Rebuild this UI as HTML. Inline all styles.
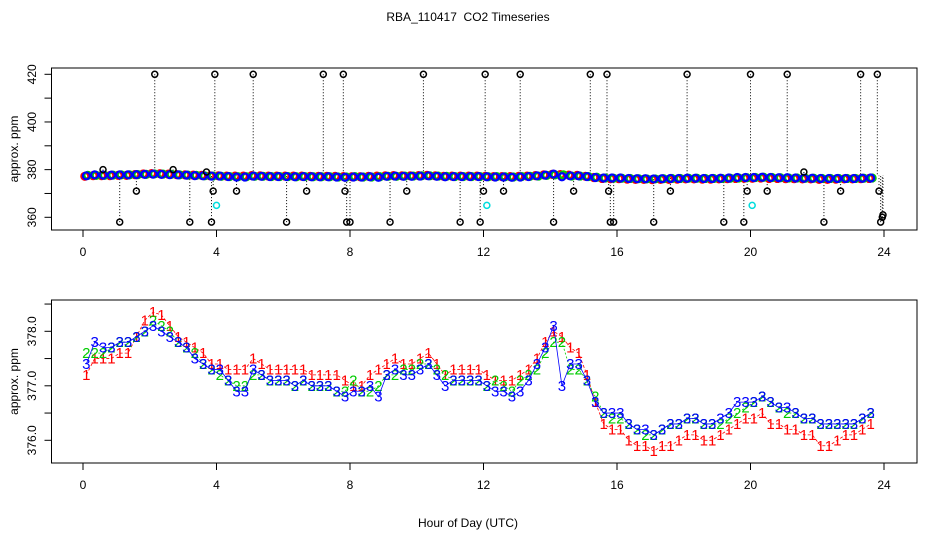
<!DOCTYPE html>
<html><head><meta charset="utf-8"><style>
body{margin:0;background:#fff}
svg{font-family:"Liberation Sans",sans-serif}
</style></head><body>
<svg id="c" width="936" height="540" xmlns="http://www.w3.org/2000/svg">
<text x="468" y="21" text-anchor="middle" font-size="12" xml:space="preserve" style="white-space:pre">RBA_110417  CO2 Timeseries</text>
<text x="468" y="527" text-anchor="middle" font-size="12">Hour of Day (UTC)</text>
<g id="topg"></g>
<g id="botg"></g>
</svg>
<script>
const hourTicks=[0,4,8,12,16,20,24];
const topTicks=[360,370,380,390,400,410,420];
const topLabels=[360,380,400,420];
const botTicks=[376.0,376.5,377.0,377.5,378.0,378.5];
const botLabels=["376.0","377.0","378.0"];
const hourStart=0.1, hourStep=0.25;
const s1=[377.2,377.5,377.5,377.5,377.6,377.6,377.9,378.2,378.35,378.3,378.1,377.9,377.8,377.7,377.6,377.4,377.4,377.3,377.3,377.3,377.5,377.4,377.3,377.3,377.3,377.3,377.3,377.2,377.2,377.2,377.2,377.1,
377.0,377.0,377.2,377.3,377.4,377.5,377.4,377.4,377.5,377.6,377.4,377.2,377.3,377.3,377.3,377.3,
377.2,377.1,377.1,377.1,377.2,377.3,377.5,377.8,378.0,377.9,377.7,377.6,377.2,376.7,376.3,376.2,
376.2,376.0,375.9,375.9,375.8,375.9,375.9,376.0,376.1,376.1,376.0,376.0,376.1,376.2,376.3,376.4,
376.4,376.5,376.3,376.3,376.2,376.2,376.1,376.1,375.9,375.9,376.0,376.1,376.1,376.2,376.3];
const s2=[377.6,377.6,377.6,377.7,377.8,377.8,377.9,378.0,378.2,378.1,378.0,377.8,377.7,377.6,377.4,377.3,377.2,377.1,377.0,377.0,377.2,377.2,377.1,377.1,377.1,377.0,377.1,377.0,377.0,377.0,376.9,376.9,
377.1,376.9,376.9,377.0,377.2,377.2,377.3,377.3,377.4,377.4,377.3,377.2,377.1,377.1,377.1,377.1,
377.0,377.1,377.0,376.9,377.1,377.2,377.3,377.6,377.8,377.8,377.3,377.3,377.1,376.8,376.5,376.4,
376.4,376.3,376.2,376.1,376.1,376.2,376.3,376.3,376.4,376.4,376.3,376.3,376.3,376.4,376.5,376.6,
376.7,376.8,376.7,376.6,376.5,376.5,376.4,376.4,376.3,376.3,376.3,376.3,376.3,376.4,376.5];
const s3=[377.4,377.8,377.7,377.7,377.8,377.8,377.9,378.0,378.1,378.0,377.9,377.8,377.7,377.5,377.4,377.3,377.3,377.1,376.9,376.9,377.3,377.2,377.1,377.1,377.1,377.0,377.1,377.0,377.0,377.0,376.9,376.8,
376.9,376.9,377.0,376.8,377.2,377.3,377.2,377.2,377.3,377.4,377.2,377.0,377.1,377.1,377.1,377.1,
377.0,376.9,376.9,376.8,376.9,377.1,377.4,377.7,378.1,377.0,377.4,377.4,377.1,376.7,376.5,376.5,
376.5,376.3,376.2,376.2,376.1,376.2,376.3,376.3,376.4,376.4,376.3,376.3,376.4,376.5,376.7,376.7,
376.7,376.8,376.7,376.6,376.6,376.5,376.4,376.4,376.3,376.3,376.3,376.3,376.3,376.4,376.5];
const outHours=[0.6,1.1,1.6,2.15,2.7,3.2,3.7,3.85,3.9,3.95,4.6,5.1,6.1,6.7,7.2,7.8,7.85,7.9,8.0,9.2,9.7,10.2,11.3,11.9,12.0,12.05,12.6,13.1,14.1,14.7,15.2,15.7,15.75,15.8,15.9,17.1,17.6,18.1,19.2,19.8,19.9,20.0,20.5,21.1,21.6,22.2,22.7,23.3,23.8,23.85,23.9,23.95,23.97];
const outVals=[380,358,371,420,380,358,379,358,371,420,371,420,358,371,420,420,371,358,358,358,371,420,358,358,371,420,371,420,358,371,420,420,371,358,358,358,371,420,358,358,371,420,371,420,379,358,371,420,420,371,358,360,361];
const cyanHours=[4.0,12.1,20.05];
const cyanVals=[365,365,365];

const NS="http://www.w3.org/2000/svg";
const X0=51.5,X1=917,x=h=>83+h*(884-83)/24;
const yT=v=>217.3-(v-360)*(217.3-74.3)/60;
const yB=v=>331.3-(v-378)*54.5;
function mk(p,t,a){const e=document.createElementNS(NS,t);for(const k in a)e.setAttribute(k,a[k]);p.appendChild(e);return e;}
const topG=document.getElementById('topg'),botG=document.getElementById('botg');
const hrs=s3.map((_,i)=>hourStart+i*hourStep);

function frame(g,yt,yb,name){
  const r=mk(g,'rect',{x:X0,y:yt,width:X1-X0,height:yb-yt,fill:'none',stroke:'#000'});
  
  
  const ax=mk(g,'g',{});
  
  
  mk(ax,'line',{x1:x(0),x2:x(24),y1:yb,y2:yb,stroke:'#000'});
  hourTicks.forEach(h=>{mk(ax,'line',{x1:x(h),x2:x(h),y1:yb,y2:yb+7,stroke:'#000'});
    const t=mk(ax,'text',{x:x(h),y:yb+26,'text-anchor':'middle','font-size':12});t.textContent=h;
    
    });
  const yl=mk(g,'text',{transform:`translate(18,${(yt+yb)/2}) rotate(-90)`,'text-anchor':'middle','font-size':12});
  yl.textContent='approx. ppm';
  
  
}
// top
frame(topG,68,230,'top');
const tya=mk(topG,'g',{});


mk(tya,'line',{x1:X0,x2:X0,y1:yT(360),y2:yT(420),stroke:'#000'});
topTicks.forEach(v=>mk(tya,'line',{x1:X0-7,x2:X0,y1:yT(v),y2:yT(v),stroke:'#000'}));
topLabels.forEach(v=>{const t=mk(tya,'text',{transform:`translate(36,${yT(v)}) rotate(-90)`,'text-anchor':'middle','font-size':12});t.textContent=v;
  
  });
outHours.forEach((h,i)=>{const l=mk(topG,'line',{x1:x(h),x2:x(h),y1:yT(outVals[i]),y2:yT(377.5),stroke:'#000','stroke-dasharray':'1,2'});
  
  });
[[s1,'#f00',-1.5],[s2,'#0c0',1.5],[s3,'#00f',0]].forEach(([s,c,dx])=>{s.forEach((v,i)=>{
  const e=mk(topG,'circle',{cx:x(hrs[i])+dx,cy:yT(v),r:3.5,fill:'none',stroke:c,'stroke-width':2.2});
  
  });});
outHours.forEach((h,i)=>{const e=mk(topG,'circle',{cx:x(h),cy:yT(outVals[i]),r:3,fill:'none',stroke:'#000','stroke-width':1.5});
  
  });
cyanHours.forEach((h,i)=>{const e=mk(topG,'circle',{cx:x(h),cy:yT(cyanVals[i]),r:3,fill:'none',stroke:'#0dd','stroke-width':1.5});
  
  });
// bottom
frame(botG,300,463,'bottom');
const bya=mk(botG,'g',{});


mk(bya,'line',{x1:X0,x2:X0,y1:yB(376),y2:yB(378.5),stroke:'#000'});
botTicks.forEach(v=>mk(bya,'line',{x1:X0-7,x2:X0,y1:yB(v),y2:yB(v),stroke:'#000'}));
botLabels.forEach(v=>{const t=mk(bya,'text',{transform:`translate(36,${yB(+v)}) rotate(-90)`,'text-anchor':'middle','font-size':12});t.textContent=v;
  
  });
[[s1,'#f00','1','3,2'],[s2,'#0c0','2','2,2'],[s3,'#00f','3','']].forEach(([s,c,ch,da])=>{
  const pl=mk(botG,'polyline',{points:s.map((v,i)=>x(hrs[i])+','+yB(v)).join(' '),fill:'none',stroke:c,'stroke-width':0.8,'stroke-dasharray':da});
  
  
  s.forEach((v,i)=>{const t=mk(botG,'text',{x:x(hrs[i]),y:yB(v)+5,'text-anchor':'middle','font-size':15,fill:c});t.textContent=ch;
    
    });
});
</script>
</body></html>
